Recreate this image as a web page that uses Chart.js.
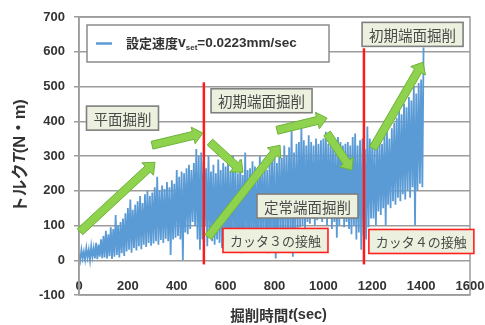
<!DOCTYPE html>
<html>
<head>
<meta charset="utf-8">
<script src="https://cdn.jsdelivr.net/npm/chart.js@4.4.1/dist/chart.umd.min.js"></script>
<style>
  html, body { margin: 0; padding: 0; background: #ffffff; }
  canvas { display: block; }
</style>
</head>
<body>
<canvas id="torqueChart" width="485" height="325"></canvas>
<script>
// Torque record sampled as alternating peak / trough values of each 10 s cycle.
const cycleSeconds = 10;
// Peak torque (N·m) at t = 0, 10, 20, ... 1410 s
const peakTorque = [
  20, 30, 25, 35, 30, 40, 35, 50, 45, 60,
  70, 85, 75, 95, 90, 130, 100, 110, 120, 135,
  150, 175, 145, 160, 170, 185, 165, 190, 200, 185,
  195, 210, 240, 200, 215, 205, 225, 210, 230, 220,
  260, 240, 255, 250, 265, 275, 260, 280, 320, 300,
  310, 285, 265, 300, 255, 275, 250, 290, 260, 280,
  270, 295, 255, 300, 265, 250, 290, 245, 310, 260,
  265, 285, 270, 250, 300, 265, 280, 260, 290, 300,
  305, 280, 320, 295, 330, 300, 325, 380, 310, 335,
  340, 385, 345, 330, 360, 340, 330, 350, 335, 345,
  350, 370, 335, 340, 345, 325, 355, 340, 330, 335,
  340, 330, 355, 365, 330, 345, 350, 320, 385, 350,
  340, 325, 330, 345, 335, 360, 370, 350, 380, 395,
  410, 430, 420, 450, 440, 470, 460, 500, 480, 510,
  520, 612
];
// Trough torque (N·m) at t = 5, 15, 25, ... 1405 s
const troughTorque = [
  0, 5, 2, 8, 0, 10, 5, 3, 10, 6,
  8, 5, 12, 4, 10, 15, 8, 20, 12, 25,
  30, 22, 35, 28, 40, 32, 45, 38, 50, 42,
  48, 55, 45, 58, 50, 62, 55, 15, 60, 65,
  70, 60, 0, 80, 75, 90, 110, 100, 60, 30,
  60, 100, 40, 70, 55, 45, 60, 50, 35, 55,
  40, 30, 45, 60, 35, 50, 20, 55, 45, 60,
  50, 65, 40, 60, 55, 70, 60, 20, 65, 50,
  5, 70, 60, 75, 65, 80, 70, 10, 85, 90,
  95, 100, 90, 110, 105, 120, 100, 115, 125, 110,
  120, 100, 130, 90, 110, 65, 100, 120, 95, 110,
  90, 75, 100, 60, 80, 30, 70, 60, 95, 120,
  120, 100, 140, 130, 150, 100, 160, 150, 170, 160,
  180, 170, 190, 175, 200, 180, 210, 100, 200, 220,
  210
];

// Cutter contact moments (s) and the top of their marker lines (N·m)
const contactTimes = [511, 1166];
const contactTops = [512, 610];
const contactBottom = -12;

// Axis ticks
const xTicks = [0, 200, 400, 600, 800, 1000, 1200, 1400, 1600];
const yTicks = [-100, 0, 100, 200, 300, 400, 500, 600, 700];

// Excavation-phase trend arrows: [t0, T0, t1, T1]
const trendArrows = [
  [4, 82, 311, 282],
  [299, 331, 507, 366],
  [536, 340, 671, 253],
  [528, 67, 823, 331],
  [810, 374, 1015, 409],
  [1015, 365, 1117, 259],
  [1203, 322, 1408, 570]
];

// Phase callouts: text, centre time (s), centre torque (N·m)
const phaseLabels = ['平面掘削', '初期端面掘削', '初期端面掘削', '定常端面掘削', 'カッタ３の接触', 'カッタ４の接触'];
const phaseTimes  = [178, 747, 1365, 935, 804, 1401];
const phaseTorque = [409, 459, 650, 156, 57, 54];
const phaseKinds  = ['phase', 'phase', 'phase', 'phase', 'contact', 'contact'];

const seriesLabel = '設定速度vset=0.0223mm/sec';

// ---- build datasets ----
const torquePoints = [];
for (let i = 0; i < peakTorque.length; i++) {
  torquePoints.push({ x: i * cycleSeconds, y: peakTorque[i] });
  if (i < troughTorque.length) {
    torquePoints.push({ x: i * cycleSeconds + cycleSeconds / 2, y: troughTorque[i] });
  }
}

const contactSets = contactTimes.map((t, k) => ({
  label: 'contact' + (k + 1),
  data: [{ x: t, y: contactBottom }, { x: t, y: contactTops[k] }],
  showLine: true,
  borderColor: '#ff1a1a',
  borderWidth: 2.5,
  pointRadius: 0,
  order: 1,
  clip: false
}));

const CJK = '"Noto Sans CJK JP"';
const LAT = '"Liberation Sans", "Noto Sans CJK JP"';
const GRID = '#9c9c9c';

function drawArrow(ctx, x0, y0, x1, y1) {
  const dx = x1 - x0, dy = y1 - y0;
  const len = Math.hypot(dx, dy);
  const ux = dx / len, uy = dy / len;
  const nx = -uy, ny = ux;
  const hw = 4, hh = 8.5, hl = 10;
  const bx = x1 - ux * hl, by = y1 - uy * hl;
  ctx.beginPath();
  ctx.moveTo(x0 + nx * hw, y0 + ny * hw);
  ctx.lineTo(bx + nx * hw, by + ny * hw);
  ctx.lineTo(bx + nx * hh, by + ny * hh);
  ctx.lineTo(x1, y1);
  ctx.lineTo(bx - nx * hh, by - ny * hh);
  ctx.lineTo(bx - nx * hw, by - ny * hw);
  ctx.lineTo(x0 - nx * hw, y0 - ny * hw);
  ctx.closePath();
  ctx.fillStyle = '#8fd24e';
  ctx.fill();
  ctx.strokeStyle = '#6cb33a';
  ctx.lineWidth = 1;
  ctx.stroke();
}

// draws runs of [text, font, dy] left to right starting at x, centred on y
function drawRuns(ctx, runs, x, y) {
  ctx.textBaseline = 'middle';
  ctx.textAlign = 'left';
  for (const r of runs) {
    ctx.font = r[1];
    ctx.fillText(r[0], x, y + (r[2] || 0));
    x += ctx.measureText(r[0]).width;
  }
  return x;
}
function runsWidth(ctx, runs) {
  let w = 0;
  for (const r of runs) { ctx.font = r[1]; w += ctx.measureText(r[0]).width; }
  return w;
}

const overlayPlugin = {
  id: 'overlay',
  afterDatasetsDraw(chart) {
    const { ctx, chartArea: a, scales: { x, y } } = chart;
    ctx.save();

    // plot frame
    ctx.strokeStyle = GRID;
    ctx.lineWidth = 1.5;
    ctx.strokeRect(a.left, a.top, a.right - a.left, a.bottom - a.top);

    // trend arrows
    for (const [t0, v0, t1, v1] of trendArrows) {
      drawArrow(ctx, x.getPixelForValue(t0), y.getPixelForValue(v0),
                     x.getPixelForValue(t1), y.getPixelForValue(v1));
    }

    // phase callouts
    for (let i = 0; i < phaseLabels.length; i++) {
      const contact = phaseKinds[i] === 'contact';
      const fs = contact ? 13 : 14.5;
      ctx.font = `${fs}px ${CJK}`;
      const tw = ctx.measureText(phaseLabels[i]).width;
      const w = tw + 14, h = 24;
      const cx = x.getPixelForValue(phaseTimes[i]);
      const cy = y.getPixelForValue(phaseTorque[i]);
      ctx.fillStyle = '#ebf1de';
      ctx.fillRect(cx - w / 2, cy - h / 2, w, h);
      ctx.strokeStyle = contact ? '#ff2020' : '#7f7f7f';
      ctx.lineWidth = 1.6;
      ctx.strokeRect(cx - w / 2, cy - h / 2, w, h);
      ctx.fillStyle = '#4a4a4a';
      ctx.textAlign = 'center';
      ctx.textBaseline = 'middle';
      ctx.fillText(phaseLabels[i], cx, cy + 1);
    }

    // legend
    const lx = a.left + 8, ly = a.top + 8, lw = 242, lh = 37;
    ctx.fillStyle = '#ffffff';
    ctx.fillRect(lx, ly, lw, lh);
    ctx.strokeStyle = '#8c8c8c';
    ctx.lineWidth = 1.5;
    ctx.strokeRect(lx, ly, lw, lh);
    const my = ly + lh / 2;
    ctx.strokeStyle = '#5b9bd5';
    ctx.lineWidth = 2.5;
    ctx.beginPath();
    ctx.moveTo(lx + 9, my);
    ctx.lineTo(lx + 25, my);
    ctx.stroke();
    ctx.fillStyle = '#333333';
    drawRuns(ctx, [
      ['設定速度', `bold 13px ${CJK}`],
      ['v', `bold 14px ${LAT}`],
      ['set', `bold 8px ${LAT}`, 4],
      ['=0.0223mm/sec', `bold 13.5px ${LAT}`]
    ], lx + 39, my);

    ctx.restore();
  },
  afterDraw(chart) {
    const { ctx, chartArea: a } = chart;
    ctx.save();
    ctx.fillStyle = '#333333';
    // x title
    const xr = [
      ['掘削時間', `bold 14.5px ${CJK}`],
      ['t', `italic bold 14.5px ${LAT}`],
      ['(sec)', `bold 14.5px ${LAT}`]
    ];
    const xw = runsWidth(ctx, xr);
    drawRuns(ctx, xr, (a.left + a.right) / 2 + 4 - xw / 2, 315);
    // y title (rotated)
    const yr = [
      ['トルク', `bold 16.5px ${CJK}`],
      ['T', `italic bold 16.5px ${LAT}`],
      ['(N・m)', `bold 16.5px ${LAT}`]
    ];
    const yw = runsWidth(ctx, yr);
    ctx.translate(20, (a.top + a.bottom) / 2);
    ctx.rotate(-Math.PI / 2);
    drawRuns(ctx, yr, -yw / 2, 0);
    ctx.restore();
  }
};

const tickFont = { family: 'Liberation Sans', size: 13, weight: 'bold' };

new Chart(document.getElementById('torqueChart'), {
  type: 'scatter',
  data: {
    datasets: [
      ...contactSets,
      {
        label: seriesLabel,
        data: torquePoints,
        showLine: true,
        borderColor: '#5b9bd5',
        borderWidth: 1.8,
        pointRadius: 0,
        order: 2
      }
    ]
  },
  options: {
    responsive: false,
    animation: false,
    devicePixelRatio: 1,
    layout: { padding: { top: 17, right: 15, left: 0, bottom: 30 } },
    plugins: { legend: { display: false }, tooltip: { enabled: false } },
    scales: {
      // time axis: crosses the torque axis at 0, labels sit just below it
      x: {
        type: 'linear',
        position: { y: 0 },
        min: xTicks[0],
        max: xTicks[xTicks.length - 1],
        afterBuildTicks: (s) => { s.ticks = xTicks.map(v => ({ value: v })); },
        afterFit: (s) => { s.height = 0; s.paddingLeft = 0; s.paddingRight = 0; },
        grid: { display: false, drawTicks: false },
        border: { display: false },
        ticks: {
          padding: 18,
          color: '#333333',
          font: tickFont,
          maxRotation: 0,
          autoSkip: false,
          callback: (v) => String(v)
        }
      },
      y: {
        min: yTicks[0],
        max: yTicks[yTicks.length - 1],
        afterBuildTicks: (s) => { s.ticks = yTicks.map(v => ({ value: v })); },
        afterFit: (s) => { s.width = 79; },
        grid: { color: GRID, lineWidth: 1.5, drawTicks: true, tickLength: 5 },
        border: { display: true, color: GRID, width: 1.5 },
        ticks: {
          padding: 9,
          color: '#333333',
          font: tickFont,
          callback: (v) => String(v)
        }
      }
    }
  },
  plugins: [overlayPlugin]
});
</script>
</body>
</html>
